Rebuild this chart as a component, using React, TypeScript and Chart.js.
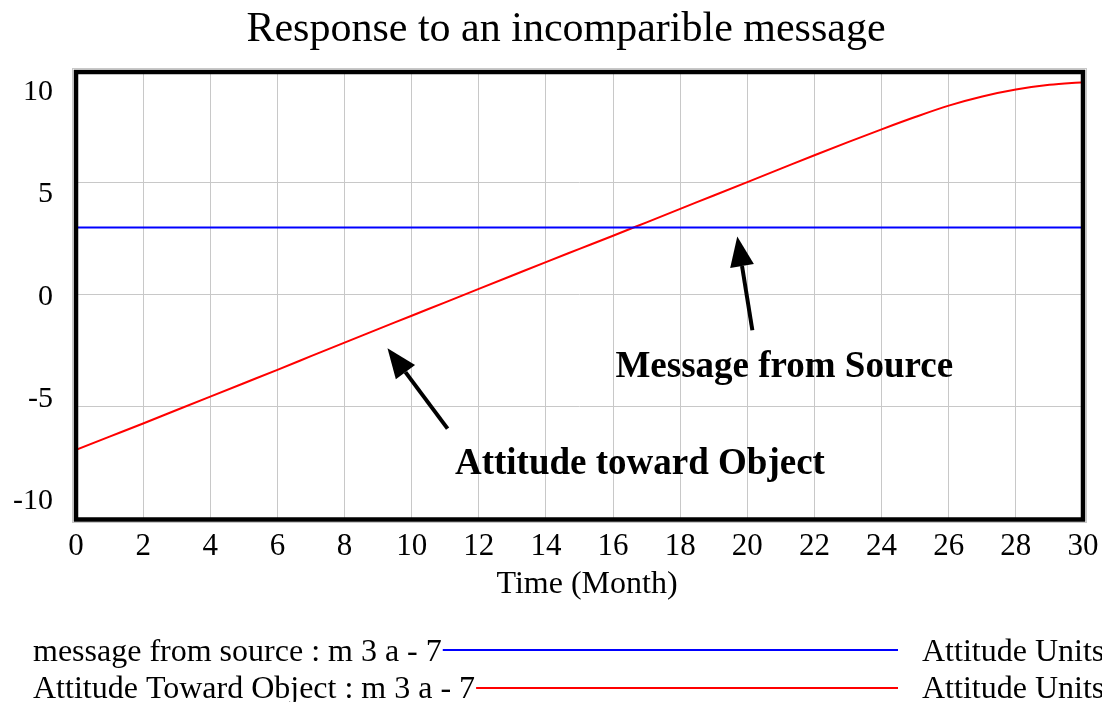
import { useEffect, useRef } from "react";
import { Chart, registerables } from "chart.js";

Chart.register(...registerables);

const months = [0, 1, 2, 3, 4, 5, 6, 7, 8, 9, 10, 11, 12, 13, 14, 15, 16, 17, 18, 19, 20, 21, 22, 23, 24, 25, 26, 27, 28, 29, 30];
const messageFromSource = [3, 3, 3, 3, 3, 3, 3, 3, 3, 3, 3, 3, 3, 3, 3, 3, 3, 3, 3, 3, 3, 3, 3, 3, 3, 3, 3, 3, 3, 3, 3];
const attitudeTowardObject = [
  -6.95, -6.36, -5.77, -5.17, -4.57, -3.97, -3.37, -2.76, -2.15, -1.55, -0.95, -0.35, 0.25, 0.85, 1.45, 2.04,
  2.63, 3.23, 3.83, 4.43, 5.03, 5.63, 6.23, 6.82, 7.39, 7.94, 8.45, 8.86, 9.17, 9.38, 9.5,
];
const xTicks = [0, 2, 4, 6, 8, 10, 12, 14, 16, 18, 20, 22, 24, 26, 28, 30];
const yTicks = [-10, -5, 0, 5, 10];
const chartTitle = "Response to an incomparible message";
const xAxisTitle = "Time (Month)";
const legendLabels = ["message from source : m 3 a - 7", "Attitude Toward Object : m 3 a - 7"];
const legendUnits = ["Attitude Units", "Attitude Units"];
const seriesColors = ["#0000ff", "#ff0000"];
const annotationTexts = ["Message from Source", "Attitude toward Object"];

const SERIF = '"Liberation Serif", "Times New Roman", serif';

const overlayPlugin = {
  id: "overlay",
  afterDraw(chart: any) {
    const ctx = chart.ctx as CanvasRenderingContext2D;
    const area = chart.chartArea;
    const xs = chart.scales.x;
    const ys = chart.scales.y;
    ctx.save();

    // frame
    ctx.strokeStyle = "#c8c8c8";
    ctx.lineWidth = 1;
    ctx.strokeRect(area.left - 3.5, area.top - 2.5, area.right - area.left + 7, area.bottom - area.top + 7);
    ctx.strokeStyle = "#000000";
    ctx.lineWidth = 4.5;
    ctx.strokeRect(area.left, area.top + 1, area.right - area.left, area.bottom - area.top + 0.5);

    // title
    ctx.fillStyle = "#000";
    ctx.font = `42px ${SERIF}`;
    ctx.textAlign = "center";
    ctx.textBaseline = "alphabetic";
    ctx.fillText(chartTitle, 566, 41);

    // y tick labels (end labels pulled inward)
    ctx.font = `30px ${SERIF}`;
    ctx.textAlign = "right";
    const mid = (area.top + area.bottom) / 2;
    yTicks.forEach((v) => {
      const p = ys.getPixelForValue(v);
      const y = mid + (p - mid) * 0.916;
      ctx.fillText(String(v), 53, y + 10);
    });

    // x tick labels
    ctx.font = `31px ${SERIF}`;
    ctx.textAlign = "center";
    xTicks.forEach((v) => {
      ctx.fillText(String(v), xs.getPixelForValue(v), 555);
    });

    // x axis title
    ctx.font = `32px ${SERIF}`;
    ctx.fillText(xAxisTitle, 587, 593);

    // legend
    const rowsBase = [661, 698];
    const rowsLine = [650, 688];
    legendLabels.forEach((lab, i) => {
      ctx.font = `32px ${SERIF}`;
      ctx.textAlign = "left";
      ctx.fillStyle = "#000";
      ctx.fillText(lab, 33, rowsBase[i]);
      const w = ctx.measureText(lab).width;
      ctx.strokeStyle = seriesColors[i];
      ctx.lineWidth = 2;
      ctx.beginPath();
      ctx.moveTo(33 + w + 1, rowsLine[i]);
      ctx.lineTo(898, rowsLine[i]);
      ctx.stroke();
      ctx.fillText(legendUnits[i], 922, rowsBase[i]);
    });

    // annotations
    const drawArrow = (t0: number, v0: number, t1: number, v1: number) => {
      const x0 = xs.getPixelForValue(t0);
      const y0 = ys.getPixelForValue(v0);
      const x1 = xs.getPixelForValue(t1);
      const y1 = ys.getPixelForValue(v1);
      const ang = Math.atan2(y1 - y0, x1 - x0);
      const headLen = 30;
      const headHalf = 12;
      const bx = x1 - headLen * Math.cos(ang);
      const by = y1 - headLen * Math.sin(ang);
      ctx.strokeStyle = "#000";
      ctx.lineWidth = 4;
      ctx.beginPath();
      ctx.moveTo(x0, y0);
      ctx.lineTo(bx, by);
      ctx.stroke();
      ctx.fillStyle = "#000";
      ctx.beginPath();
      ctx.moveTo(x1, y1);
      ctx.lineTo(bx + headHalf * Math.sin(ang), by - headHalf * Math.cos(ang));
      ctx.lineTo(bx - headHalf * Math.sin(ang), by + headHalf * Math.cos(ang));
      ctx.closePath();
      ctx.fill();
    };
    drawArrow(20.15, -1.6, 19.7, 2.6);
    drawArrow(11.07, -6.0, 9.28, -2.4);

    ctx.fillStyle = "#000";
    ctx.font = `bold 37px ${SERIF}`;
    ctx.textAlign = "center";
    ctx.textBaseline = "alphabetic";
    ctx.fillText(annotationTexts[0], xs.getPixelForValue(21.1), ys.getPixelForValue(-3.17) + 12);
    ctx.fillText(annotationTexts[1], xs.getPixelForValue(16.8), ys.getPixelForValue(-7.5) + 12);

    ctx.restore();
  },
};

export default function App() {
  const ref = useRef<HTMLCanvasElement | null>(null);
  useEffect(() => {
    document.body.style.margin = "0";
    const canvas = ref.current;
    if (!canvas) return;
    const chart = new Chart(canvas, {
      type: "line",
      data: {
        labels: months,
        datasets: [
          {
            label: legendLabels[0],
            data: months.map((m, i) => ({ x: m, y: messageFromSource[i] })),
            borderColor: seriesColors[0],
            borderWidth: 2,
            pointRadius: 0,
            tension: 0,
          },
          {
            label: legendLabels[1],
            data: months.map((m, i) => ({ x: m, y: attitudeTowardObject[i] })),
            borderColor: seriesColors[1],
            borderWidth: 2,
            pointRadius: 0,
            cubicInterpolationMode: "monotone",
          },
        ],
      },
      options: {
        animation: false,
        responsive: false,
        devicePixelRatio: 1,
        layout: { padding: { top: 71, right: 19, left: 0, bottom: 0 } },
        plugins: {
          legend: { display: false },
          title: { display: false },
          tooltip: { enabled: false },
        },
        scales: {
          x: {
            type: "linear",
            min: 0,
            max: 30,
            ticks: { display: false, stepSize: 2 },
            grid: { color: "#c8c8c8", lineWidth: 1, drawTicks: false },
            border: { display: false },
            afterFit: (s: any) => {
              s.height = 184;
            },
          },
          y: {
            type: "linear",
            min: -10,
            max: 10,
            ticks: { display: false, stepSize: 5 },
            grid: { color: "#c8c8c8", lineWidth: 1, drawTicks: false },
            border: { display: false },
            afterFit: (s: any) => {
              s.width = 76;
            },
          },
        },
      },
      plugins: [overlayPlugin],
    });
    return () => chart.destroy();
  }, []);
  return (
    <div style={{ position: "absolute", left: 0, top: 0, width: 1102, height: 702, background: "#fff" }}>
      <canvas ref={ref} width={1102} height={702} style={{ width: 1102, height: 702 }} />
    </div>
  );
}
